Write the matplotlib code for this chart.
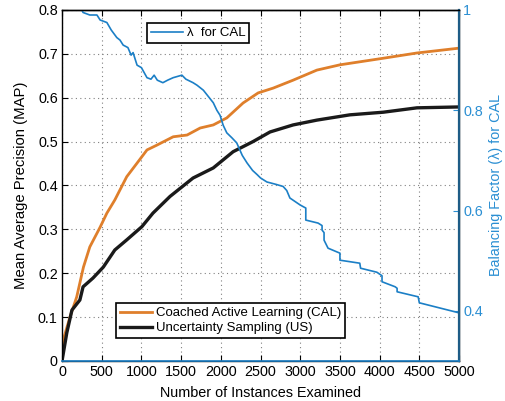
import numpy as np
import matplotlib
matplotlib.use("Agg")
from matplotlib import pyplot as plt

plt.rcParams['font.family'] = ['Liberation Sans', 'DejaVu Sans']

# Coached Active Learning (CAL) - MAP
cal_x = [0, 15, 100, 185, 270, 350, 480, 565, 665, 815, 945, 1070, 1195, 1400, 1575,
         1740, 1905, 2075, 2280, 2470, 2660, 2910, 3210, 3500, 4045, 4470, 5000]
cal_y = [0.0, 0.048, 0.10, 0.146, 0.214, 0.26, 0.305, 0.337, 0.367, 0.42, 0.451, 0.481,
         0.492, 0.511, 0.515, 0.531, 0.538, 0.554, 0.588, 0.611, 0.622, 0.64, 0.663,
         0.675, 0.69, 0.702, 0.713]

# Uncertainty Sampling (US) - MAP
us_x = [0, 60, 125, 225, 265, 390, 520, 665, 815, 1005, 1145, 1360, 1650, 1905, 2155,
        2405, 2620, 2910, 3210, 3625, 4045, 4470, 5000]
us_y = [0.0, 0.064, 0.116, 0.139, 0.169, 0.189, 0.214, 0.253, 0.276, 0.306, 0.337,
        0.375, 0.417, 0.44, 0.477, 0.50, 0.522, 0.538, 0.549, 0.561, 0.567, 0.577, 0.579]

# balancing factor lambda for CAL
lam_x = [0, 250, 265, 350, 440, 480, 565, 620, 690, 730, 770, 830, 870, 895, 945, 1000,
         1070, 1120, 1160, 1200, 1270, 1330, 1400, 1510, 1560, 1650, 1700, 1780, 1830,
         1905, 1950, 1990, 2030, 2075, 2140, 2200, 2270, 2330, 2400, 2455, 2500, 2580,
         2700, 2785, 2830, 2870, 3000, 3070, 3070, 3225, 3275, 3275, 3300, 3300, 3350,
         3500, 3500, 3750, 3760, 3965, 4030, 4030, 4195, 4220, 4220, 4485, 4500, 5000]
lam_y = [1.0, 1.0, 0.995, 0.99, 0.99, 0.98, 0.975, 0.96, 0.945, 0.94, 0.93, 0.925, 0.91,
         0.915, 0.89, 0.885, 0.865, 0.862, 0.87, 0.86, 0.855, 0.86, 0.865, 0.87, 0.862,
         0.855, 0.85, 0.84, 0.83, 0.815, 0.80, 0.79, 0.77, 0.755, 0.745, 0.735, 0.71,
         0.695, 0.68, 0.672, 0.665, 0.657, 0.652, 0.648, 0.64, 0.625, 0.611, 0.605, 0.581,
         0.575, 0.57, 0.561, 0.556, 0.541, 0.525, 0.515, 0.501, 0.495, 0.485, 0.477,
         0.47, 0.458, 0.448, 0.445, 0.438, 0.428, 0.416, 0.396]

orange = '#df7f2b'
blue = '#1b7fc6'
blue_txt = '#2b8fd3'
blue_spine = '#1d5c86'

fig = plt.figure(figsize=(5.05, 4.01), dpi=100)
ax1 = fig.add_axes([0.1228, 0.0998, 0.7862, 0.8753])

l1, = ax1.plot(cal_x, cal_y, color=orange, lw=2.0, label='Coached Active Learning (CAL)')
l2, = ax1.plot(us_x, us_y, color='#1a1a1a', lw=2.4, label='Uncertainty Sampling (US)')
ax1.set_xlim(0, 5000)
ax1.set_ylim(0, 0.8)
ax1.set_xticks(np.arange(0, 5001, 500))
ax1.set_yticks(np.arange(0, 0.81, 0.1))
ax1.set_yticklabels(['0', '0.1', '0.2', '0.3', '0.4', '0.5', '0.6', '0.7', '0.8'])
ax1.grid(True, linestyle=(0, (1, 3)), color='#808080', lw=0.8)
ax1.tick_params(direction='in', length=4, labelsize=10.4, top=True, right=True, pad=3)
ax1.set_xlabel('Number of Instances Examined', fontsize=10.4, labelpad=5)
ax1.set_ylabel('Mean Average Precision (MAP)', fontsize=10.7, labelpad=7)
for s in ax1.spines.values():
    s.set_linewidth(1.0)

ax2 = ax1.twinx()
l3, = ax2.plot(lam_x, lam_y, color=blue, lw=1.2, label='λ  for CAL')
ax2.set_ylim(0.3, 1.0)
ax2.set_yticks([0.4, 0.6, 0.8, 1.0])
ax2.set_yticklabels(['0.4', '0.6', '0.8', '1'])
ax2.tick_params(axis='y', direction='in', length=4, labelsize=10.4, colors=blue_txt, pad=3)
ax2.set_ylabel('Balancing Factor (λ) for CAL', fontsize=10.4, color=blue_txt, labelpad=4)
ax2.spines['right'].set_color(blue_spine)
ax2.spines['right'].set_linewidth(1.6)
ax2.spines['bottom'].set_color(blue)
ax2.spines['bottom'].set_linewidth(1.2)
ax2.spines['top'].set_color('black')
ax2.spines['top'].set_linewidth(1.0)
ax2.spines['left'].set_visible(False)

leg2 = ax2.legend(handles=[l3], loc='upper left', bbox_to_anchor=(0.214, 0.963),
                  borderaxespad=0, fancybox=False, edgecolor='black', framealpha=1,
                  fontsize=9.5, handlelength=2.4, borderpad=0.3, handletextpad=0.3)
leg2.get_frame().set_linewidth(1.2)
leg1 = ax2.legend(handles=[l1, l2], loc='lower left', bbox_to_anchor=(0.136, 0.065),
                  borderaxespad=0, fancybox=False, edgecolor='black', framealpha=1,
                  fontsize=9.5, handlelength=2.4, borderpad=0.3, handletextpad=0.3,
                  labelspacing=0.2)
leg1.get_frame().set_linewidth(1.2)
ax2.add_artist(leg2)

fig.savefig('out.png', dpi=100)
